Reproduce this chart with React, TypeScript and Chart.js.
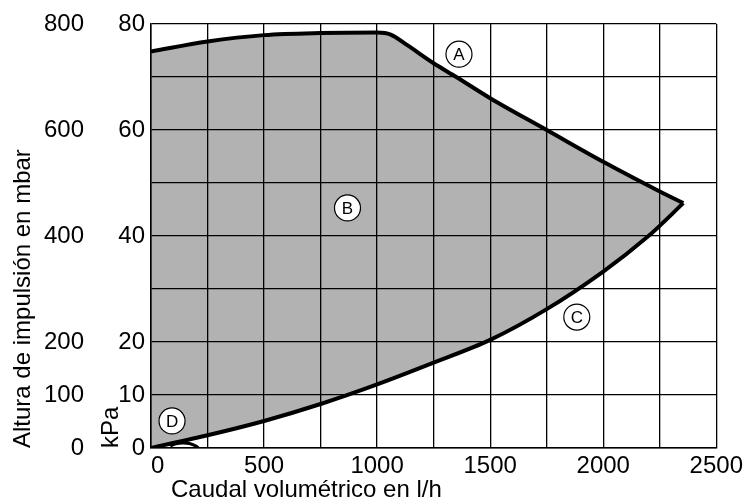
import React, { useEffect, useRef } from 'react';
import { Chart, registerables } from 'chart.js';

Chart.register(...registerables);

// Upper boundary (curve A) – flow in l/h, head in kPa
const upperFlow = [0, 250, 500, 750, 1000, 1060, 1130, 1250, 1350, 1500, 1750, 2000, 2250, 2354];
const upperHead = [74.8, 76.7, 77.9, 78.3, 78.4, 78.0, 76.1, 72.6, 70.0, 66.0, 60.0, 54.0, 48.4, 46.2];

// Lower boundary (curve C)
const lowerFlow = [0, 250, 500, 750, 1000, 1250, 1500, 1750, 2000, 2200, 2354];
const lowerHead = [0, 2.4, 5.1, 8.3, 12.0, 16.1, 20.4, 26.2, 33.3, 40.0, 46.2];

// Small arc near the origin (D)
const minFlow = [85, 110, 140, 170, 195, 210];
const minHead = [0.4, 0.8, 0.95, 0.85, 0.45, 0.05];

// Circled region markers
const markerNames = ['A', 'B', 'C', 'D'];
const markerFlow = [1362, 869, 1883, 93];
const markerHead = [74.3, 45.3, 24.7, 5.1];

// Tick labels shown
const kPaLabels = [0, 10, 20, 40, 60, 80];
const mbarLabels = [0, 100, 200, 400, 600, 800];
const flowLabels = [0, 500, 1000, 1500, 2000, 2500];

const FONT = "'Liberation Sans', Arial, Helvetica, sans-serif";

export default function App() {
  const ref = useRef<HTMLCanvasElement>(null);

  useEffect(() => {
    if (!ref.current) return;
    Chart.defaults.font.family = FONT;
    Chart.defaults.color = '#000';
    const toPts = (xs: number[], ys: number[]) => xs.map((x, i) => ({ x, y: ys[i] }));

    const markerText = {
      id: 'markerText',
      afterDatasetsDraw(chart: any) {
        const meta = chart.getDatasetMeta(3);
        const ctx = chart.ctx;
        ctx.save();
        ctx.font = `17px ${FONT}`;
        ctx.fillStyle = '#000';
        ctx.textAlign = 'center';
        ctx.textBaseline = 'middle';
        meta.data.forEach((pt: any, i: number) => {
          ctx.fillText(markerNames[i], pt.x, pt.y + 1);
        });
        ctx.restore();
      },
    };

    const gridStyle = { color: '#000', lineWidth: 1.3, drawTicks: false };

    const chart = new Chart(ref.current, {
      type: 'line',
      data: {
        datasets: [
          {
            data: toPts(upperFlow, upperHead),
            borderColor: '#000',
            borderWidth: 4,
            pointRadius: 0,
            fill: '+1',
            backgroundColor: 'rgba(0,0,0,0.3)',
            cubicInterpolationMode: 'monotone',
          },
          {
            data: toPts(lowerFlow, lowerHead),
            borderColor: '#000',
            borderWidth: 4,
            pointRadius: 0,
            fill: false,
            tension: 0.3,
          },
          {
            data: toPts(minFlow, minHead),
            borderColor: '#000',
            borderWidth: 3,
            pointRadius: 0,
            fill: false,
            tension: 0.4,
          },
          {
            data: toPts(markerFlow, markerHead),
            showLine: false,
            order: -1,
            pointRadius: 13,
            pointHoverRadius: 13,
            pointBackgroundColor: '#fff',
            pointBorderColor: '#000',
            pointBorderWidth: 1.2,
          },
        ],
      } as any,
      options: {
        responsive: false,
        animation: false,
        events: [],
        layout: { padding: { top: 24, right: 29, left: 0, bottom: 0 } },
        plugins: {
          legend: { display: false },
          tooltip: { enabled: false },
          filler: { drawTime: 'beforeDatasetsDraw' },
        },
        scales: {
          x: {
            type: 'linear',
            position: 'bottom',
            min: 0,
            max: 2500,
            ticks: {
              stepSize: 250,
              autoSkip: false,
              maxRotation: 0,
              padding: 4,
              color: '#000',
              font: { size: 24 },
              callback: (v: any) =>
                flowLabels.includes(v) ? (v === 0 ? '\u00A0\u00A00' : String(v)) : '',
            },
            grid: gridStyle,
            border: { color: '#000', width: 1.5 },
            title: {
              display: true,
              text: '\u00A0\u00A0\u00A0Caudal volumétrico en l/h',
              align: 'start',
              color: '#000',
              font: { size: 24, lineHeight: 1 },
              padding: { top: 0, bottom: 0 },
            },
            afterFit: (s: any) => {
              s.height = 54;
            },
          },
          y: {
            type: 'linear',
            position: 'left',
            weight: 0,
            min: 0,
            max: 80,
            ticks: {
              stepSize: 10,
              padding: 6,
              color: '#000',
              font: { size: 24 },
              callback: (v: any) => (kPaLabels.includes(v) ? String(v) : ''),
            },
            grid: gridStyle,
            border: { color: '#000', width: 1.5 },
            title: {
              display: true,
              text: 'kPa',
              align: 'start',
              color: '#000',
              font: { size: 24 },
              padding: { top: 5, bottom: 0 },
            },
            afterFit: (s: any) => {
              s.width = 59;
            },
          },
          mbar: {
            type: 'linear',
            position: 'left',
            weight: 1,
            min: 0,
            max: 800,
            ticks: {
              stepSize: 100,
              padding: 8,
              color: '#000',
              font: { size: 24 },
              callback: (v: any) => (mbarLabels.includes(v) ? String(v) : ''),
            },
            grid: { display: false, drawTicks: false },
            border: { display: false },
            title: {
              display: true,
              text: 'Altura de impulsión en mbar',
              align: 'start',
              color: '#000',
              font: { size: 24 },
              padding: { top: 9, bottom: 0 },
            },
            afterFit: (s: any) => {
              s.width = 92;
            },
          },
        },
      } as any,
      plugins: [markerText],
    });

    return () => chart.destroy();
  }, []);

  return (
    <div style={{ position: 'fixed', left: 0, top: 0, width: 747, height: 502, background: '#fff' }}>
      <canvas ref={ref} width={747} height={502} style={{ display: 'block' }} />
    </div>
  );
}
